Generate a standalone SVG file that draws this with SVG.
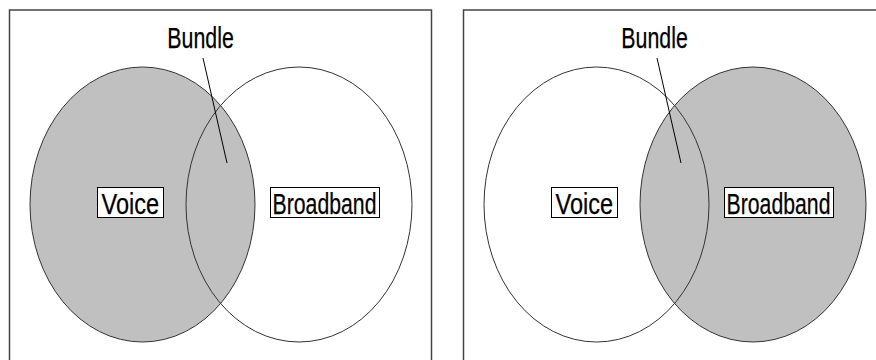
<svg xmlns="http://www.w3.org/2000/svg" width="876" height="360" viewBox="0 0 876 360">
<style>
.frame{fill:#fff;stroke:#444;stroke-width:1.5}
.set{fill:none;stroke:#333;stroke-width:1}
.shaded{fill:#c0c0c0;stroke:none}
.box{fill:#fff;stroke:#000;stroke-width:1}
.lbl{font-family:"Liberation Sans",Arial,sans-serif;font-size:29px;fill:#000;stroke:#000;stroke-width:0.25}
.lead{stroke:#000;stroke-width:1;fill:none}
</style>
<rect width="876" height="360" fill="#fff"/>
<g id="panel-voice">
  <rect class="frame" x="9.5" y="10" width="422" height="370"/>
  <ellipse class="shaded" cx="142.5" cy="204.5" rx="112.5" ry="137.5"/>
  <g id="voice-left">
    <ellipse class="set" cx="142.5" cy="204.5" rx="112.5" ry="137.5"/>
    <rect class="box" x="97.5" y="187.5" width="66" height="30"/>
    <text class="lbl" x="101.5" y="213.5" textLength="57.5" lengthAdjust="spacingAndGlyphs">Voice</text>
  </g>
  <g id="broadband-left">
    <ellipse class="set" cx="299" cy="204.5" rx="113" ry="137.5"/>
    <rect class="box" x="270.5" y="187.5" width="109" height="30"/>
    <text class="lbl" x="272.5" y="213.5" textLength="104" lengthAdjust="spacingAndGlyphs">Broadband</text>
  </g>
  <g id="bundle-left">
    <text class="lbl" x="167.3" y="47.5" textLength="66.5" lengthAdjust="spacingAndGlyphs">Bundle</text>
  </g>
</g>
<g id="panel-broadband">
  <rect class="frame" x="463.5" y="10" width="422" height="370"/>
  <ellipse class="shaded" cx="753" cy="204.5" rx="113" ry="137.5"/>
  <g id="voice-right">
    <ellipse class="set" cx="596.5" cy="204.5" rx="112.5" ry="137.5"/>
    <rect class="box" x="551.5" y="187.5" width="66" height="30"/>
    <text class="lbl" x="555.5" y="213.5" textLength="57.5" lengthAdjust="spacingAndGlyphs">Voice</text>
  </g>
  <g id="broadband-right">
    <ellipse class="set" cx="753" cy="204.5" rx="113" ry="137.5"/>
    <rect class="box" x="724.5" y="187.5" width="109" height="30"/>
    <text class="lbl" x="726.5" y="213.5" textLength="104" lengthAdjust="spacingAndGlyphs">Broadband</text>
  </g>
  <g id="bundle-right">
    <text class="lbl" x="621.3" y="47.5" textLength="66.5" lengthAdjust="spacingAndGlyphs">Bundle</text>
  </g>
</g>
<g id="connectors">
  <line class="lead" x1="203" y1="58" x2="227" y2="163"/>
  <line class="lead" x1="657" y1="58" x2="681" y2="163"/>
</g>
</svg>
